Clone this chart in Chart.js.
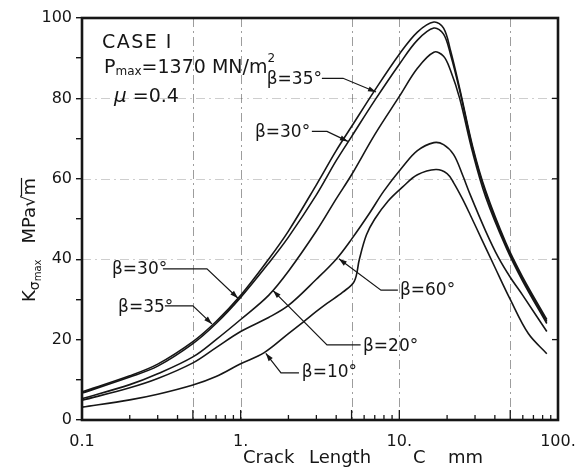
<!DOCTYPE html>
<html>
<head>
<meta charset="utf-8">
<script src="https://cdn.jsdelivr.net/npm/chart.js@4.4.1/dist/chart.umd.min.js"></script>
<style>
  html, body { margin: 0; padding: 0; background: #fff; }
  #wrap { width: 580px; height: 471px; }
</style>
</head>
<body>
<div id="wrap"><canvas id="c" width="580" height="471"></canvas></div>
<script>
const FONT = '"DejaVu Sans", sans-serif';
const INK = "#161616";

// crack length C (mm) / K values, one pair per beta curve
const cB35 = [0.1, 0.2, 0.3, 0.5, 0.7, 1, 1.5, 2, 3, 4, 5, 7, 10, 13, 16.5, 19, 21, 24, 29, 35, 47, 60, 85];
const kB35 = [7, 11, 13.9, 19.5, 24.5, 31, 40, 47, 58.5, 67, 73, 82, 91, 96.5, 99, 97.5, 92, 82.5, 68, 57, 44, 35.5, 25];

const cB30 = [0.1, 0.2, 0.3, 0.5, 0.7, 1, 1.5, 2, 3, 4, 5, 7, 10, 13, 16.5, 19, 21, 24, 29, 35, 47, 60, 85];
const kB30 = [6.7, 10.7, 13.4, 19, 24, 30.5, 39, 45.5, 56, 64.5, 70.5, 79.5, 88.5, 94.5, 97.5, 96, 91, 82, 67.5, 56.5, 43.5, 35, 24.5];

const cB20 = [0.1, 0.2, 0.3, 0.5, 0.7, 1, 1.5, 2, 3, 4, 5, 7, 10, 13, 16.5, 19, 21, 24, 29, 35, 47, 60, 85];
const kB20 = [5.3, 8.8, 11.5, 15.7, 20, 25, 31, 37, 47, 55, 61, 71, 80.5, 87.5, 91.5, 90.5, 87, 80, 66.5, 55.5, 43, 34.5, 24];

const cB60 = [0.1, 0.2, 0.3, 0.5, 0.7, 1, 1.5, 2, 3, 4, 5, 6.5, 8, 10.5, 13, 16.5, 19, 22, 25, 28, 35, 42, 50, 60, 85];
const kB60 = [4.9, 8, 10.3, 14.2, 18, 22, 25.5, 28.5, 35, 40, 45, 51.5, 57, 63, 67, 69, 68.5, 66, 61, 56, 47, 40.5, 35.5, 31, 22];

const cB10 = [0.1, 0.2, 0.3, 0.5, 0.7, 1, 1.4, 2, 2.5, 3, 3.5, 4.4, 5.2, 5.6, 6.2, 7, 8.5, 10.5, 13, 17, 20, 22, 25, 28, 33, 40, 50, 65, 85];
const kB10 = [3.2, 5, 6.4, 8.7, 10.8, 14, 16.7, 21.5, 24.5, 27, 29, 31.8, 34.5, 40, 46, 50, 54.5, 58, 61, 62.3, 61.3, 59, 55, 51, 45, 38, 30, 21.5, 16.5];

const curves = [
  { label: "β=35°", c: cB35, k: kB35 },
  { label: "β=30°", c: cB30, k: kB30 },
  { label: "β=20°", c: cB20, k: kB20 },
  { label: "β=60°", c: cB60, k: kB60 },
  { label: "β=10°", c: cB10, k: kB10 },
];

// axis ticks
const xTickValues = [0.1, 1, 10].flatMap((d) => [1, 2, 3, 4, 5, 6, 7, 8, 9].map((m) => +(m * d).toPrecision(3))).concat([100]);
const xTickLabels = { "0.1": "0.1", "1": "1.", "10": "10.", "100": "100." };
const yTickLabels = [0, 20, 40, 60, 80, 100];

// dash-dot reference lines printed on the original sheet
const refLinesC = [0.5, 1, 5, 10, 50];
const refLinesK = [40, 60, 80];

// beta labels: text anchor, then leader path ending on the curve (data units)
const notes = [
  { text: "β=35°", at: [1.46, 84.8], path: [[3.25, 85], [4.42, 85], [7.13, 81.6]] },
  { text: "β=30°", at: [1.23, 71.6], path: [[2.81, 71.8], [3.5, 71.8], [4.74, 69.3]] },
  { text: "β=30°", at: [0.1545, 37.3], path: [[0.3236, 37.6], [0.613, 37.6], [0.962, 30.3]] },
  { text: "β=35°", at: [0.1687, 27.9], path: [[0.333, 28.4], [0.5, 28.4], [0.659, 23.9]] },
  { text: "β=60°", at: [10.09, 32.3], path: [[9.79, 32.3], [7.66, 32.3], [4.16, 40.1]] },
  { text: "β=20°", at: [5.9, 18.2], path: [[5.7, 18.7], [3.5, 18.7], [1.6, 32.2]] },
  { text: "β=10°", at: [2.43, 11.7], path: [[2.33, 11.7], [1.795, 11.7], [1.44, 16.6]] },
];

function drawRuns(ctx, x, y, runs) {
  let cx = x;
  runs.forEach((r) => {
    ctx.font = `${r.italic ? "italic " : ""}${r.size}px ${FONT}`;
    ctx.fillText(r.t, cx, y + (r.dy || 0));
    cx += ctx.measureText(r.t).width + (r.gap || 0);
  });
  return cx;
}

function arrowHead(ctx, from, to) {
  const a = Math.atan2(to[1] - from[1], to[0] - from[0]);
  const len = 8, half = 2.6;
  ctx.beginPath();
  ctx.moveTo(to[0], to[1]);
  ctx.lineTo(to[0] - len * Math.cos(a) + half * Math.sin(a), to[1] - len * Math.sin(a) - half * Math.cos(a));
  ctx.lineTo(to[0] - len * Math.cos(a) - half * Math.sin(a), to[1] - len * Math.sin(a) + half * Math.cos(a));
  ctx.closePath();
  ctx.fill();
}

const paperDecor = {
  id: "paperDecor",
  beforeDatasetsDraw(chart) {
    const { ctx, chartArea: a, scales } = chart;
    ctx.save();
    ctx.strokeStyle = "rgba(60,60,60,0.5)";
    ctx.lineWidth = 1;
    ctx.setLineDash([9, 4, 2, 4]);
    refLinesC.forEach((v) => {
      const px = Math.round(scales.x.getPixelForValue(v)) + 0.5;
      ctx.beginPath();
      ctx.moveTo(px, a.top);
      ctx.lineTo(px, a.bottom);
      ctx.stroke();
    });
    ctx.strokeStyle = "rgba(60,60,60,0.25)";
    refLinesK.forEach((v) => {
      const py = Math.round(scales.y.getPixelForValue(v)) + 0.5;
      ctx.beginPath();
      ctx.moveTo(a.left, py);
      ctx.lineTo(a.right, py);
      ctx.stroke();
    });
    ctx.restore();
  },
  afterDraw(chart) {
    const { ctx, chartArea: a, scales } = chart;
    const px = (v) => scales.x.getPixelForValue(v);
    const py = (v) => scales.y.getPixelForValue(v);
    ctx.save();
    ctx.strokeStyle = INK;
    ctx.fillStyle = INK;

    // frame
    ctx.lineWidth = 2.6;
    ctx.strokeRect(a.left, a.top, a.right - a.left, a.bottom - a.top);

    // inward ticks on the crack-length axis
    ctx.lineWidth = 1.3;
    xTickValues.forEach((v) => {
      const lg = Math.log10(v);
      const big = Math.abs(lg - Math.round(lg)) < 1e-6 || Math.abs(lg - Math.round(lg) + Math.log10(2)) < 1e-6;
      const x = px(v);
      ctx.beginPath();
      ctx.moveTo(x, a.bottom);
      ctx.lineTo(x, a.bottom - (big ? 10 : 5));
      ctx.stroke();
    });
    // inward ticks on the right border
    yTickLabels.slice(1, -1).forEach((v) => {
      ctx.beginPath();
      ctx.moveTo(a.right, py(v));
      ctx.lineTo(a.right - 6, py(v));
      ctx.stroke();
    });

    // beta labels with leaders
    ctx.textBaseline = "middle";
    ctx.textAlign = "left";
    ctx.font = `17px ${FONT}`;
    ctx.lineWidth = 1.2;
    notes.forEach((n) => {
      ctx.fillText(n.text, px(n.at[0]), py(n.at[1]));
      const pts = n.path.map(([c, k]) => [px(c), py(k)]);
      ctx.beginPath();
      ctx.moveTo(pts[0][0], pts[0][1]);
      pts.slice(1).forEach((p) => ctx.lineTo(p[0], p[1]));
      ctx.stroke();
      arrowHead(ctx, pts[pts.length - 2], pts[pts.length - 1]);
    });

    // case text
    ctx.save();
    ctx.letterSpacing = "1.5px";
    ctx.font = `19px ${FONT}`;
    ctx.fillText("CASE I", 102, 43);
    ctx.restore();
    drawRuns(ctx, 104, 68, [
      { t: "P", size: 19 },
      { t: "max", size: 12, dy: 4 },
      { t: "=1370 MN/m", size: 19 },
      { t: "2", size: 12, dy: -9 },
    ]);
    drawRuns(ctx, 114, 97, [
      { t: "μ", size: 20, italic: true },
      { t: " =0.4", size: 19 },
    ]);

    // x title
    ctx.font = `18px ${FONT}`;
    ctx.textBaseline = "middle";
    ctx.fillText("Crack", 243, 458);
    ctx.fillText("Length", 309, 458);
    ctx.fillText("C", 413, 458);
    ctx.fillText("mm", 448, 458);

    // y title, rotated
    ctx.save();
    ctx.translate(30, 302);
    ctx.rotate(-Math.PI / 2);
    const end = drawRuns(ctx, 0, 0, [
      { t: "K", size: 18 },
      { t: "σ", size: 14, dy: 5 },
      { t: "max", size: 10, dy: 8, gap: 16 },
      { t: "MPa√", size: 18 },
    ]);
    ctx.font = `18px ${FONT}`;
    ctx.fillText("m", end, 0);
    const mw = ctx.measureText("m").width;
    ctx.lineWidth = 1.2;
    ctx.beginPath();
    ctx.moveTo(end - 1, -8.5);
    ctx.lineTo(end + mw, -8.5);
    ctx.stroke();
    ctx.restore();

    ctx.restore();
  },
};

new Chart(document.getElementById("c"), {
  type: "line",
  data: {
    datasets: curves.map((cv) => ({
      label: cv.label,
      data: cv.c.map((c, i) => ({ x: c, y: cv.k[i] })),
      borderColor: INK,
      borderWidth: 1.6,
      pointRadius: 0,
      fill: false,
      tension: 0.35,
    })),
  },
  options: {
    responsive: false,
    animation: false,
    devicePixelRatio: 1,
    layout: { padding: { top: 18, right: 22, left: 0, bottom: 0 } },
    plugins: { legend: { display: false }, tooltip: { enabled: false } },
    scales: {
      x: {
        type: "logarithmic",
        min: 0.1,
        max: 100,
        afterBuildTicks: (s) => { s.ticks = xTickValues.map((v) => ({ value: v })); },
        afterFit: (s) => { s.height = 51; },
        grid: { display: false },
        border: { display: false },
        ticks: {
          autoSkip: false,
          maxRotation: 0,
          padding: 4,
          color: INK,
          font: { family: FONT, size: 16 },
          callback: (v) => xTickLabels[String(v)] ?? "",
        },
      },
      y: {
        min: 0,
        max: 100,
        afterFit: (s) => { s.width = 82; },
        grid: { drawOnChartArea: false, drawTicks: true, tickLength: 6, color: INK, lineWidth: 1.4 },
        border: { display: false },
        ticks: {
          stepSize: 10,
          padding: 4,
          color: INK,
          font: { family: FONT, size: 16 },
          callback: (v) => (yTickLabels.includes(v) ? String(v) : ""),
        },
      },
    },
  },
  plugins: [paperDecor],
});
</script>
</body>
</html>
